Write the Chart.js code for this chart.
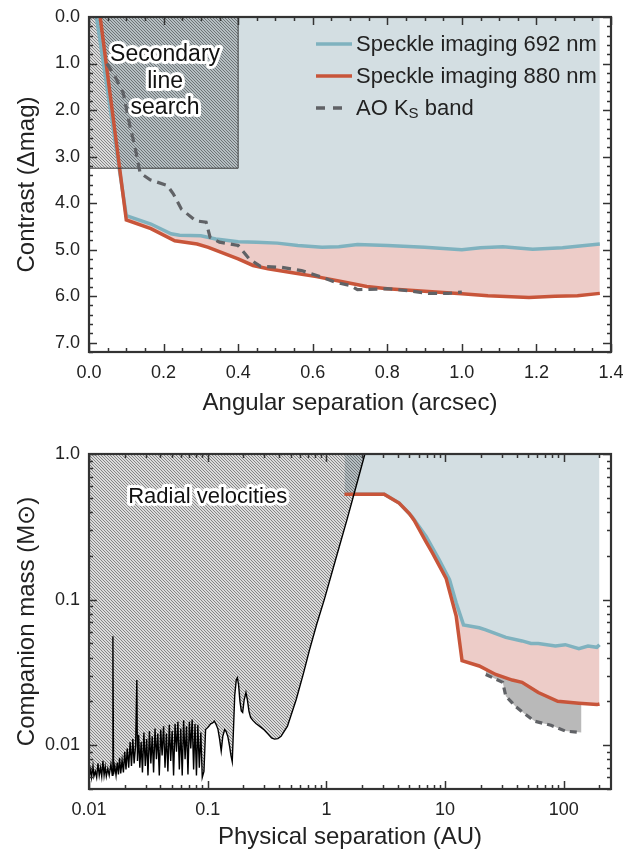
<!DOCTYPE html>
<html>
<head>
<meta charset="utf-8">
<script src="https://cdn.jsdelivr.net/npm/chart.js@4.4.1/dist/chart.umd.min.js"></script>
<style>
  body { margin: 0; background: #fff; }
  canvas { display: block; }
</style>
</head>
<body>
<canvas id="contrastChart" width="639" height="426"></canvas>
<canvas id="massChart" width="639" height="426"></canvas>
<script>
// ---- top panel: contrast curves (arcsec vs delta mag)
const sep692 = [0.02, 0.10, 0.166, 0.22, 0.243, 0.30, 0.34, 0.40, 0.45, 0.505, 0.56, 0.625, 0.67, 0.72, 0.80, 0.90, 1.00, 1.05, 1.11, 1.19, 1.27, 1.37];
const con692 = [0.0, 4.27, 4.45, 4.66, 4.69, 4.70, 4.77, 4.83, 4.84, 4.86, 4.91, 4.95, 4.94, 4.89, 4.91, 4.95, 5.00, 4.96, 4.94, 4.99, 4.96, 4.88];
const sep880 = [0.03, 0.10, 0.166, 0.23, 0.29, 0.32, 0.40, 0.44, 0.48, 0.55, 0.61, 0.68, 0.745, 0.80, 0.91, 1.00, 1.07, 1.18, 1.25, 1.31, 1.37];
const con880 = [0.0, 4.36, 4.55, 4.81, 4.88, 4.95, 5.20, 5.34, 5.41, 5.50, 5.58, 5.69, 5.79, 5.84, 5.90, 5.95, 5.99, 6.03, 6.00, 5.99, 5.94];
const sepAO = [0.048, 0.07, 0.092, 0.11, 0.123, 0.137, 0.164, 0.21, 0.226, 0.248, 0.286, 0.314, 0.325, 0.35, 0.40, 0.43, 0.46, 0.516, 0.57, 0.625, 0.66, 0.70, 0.72, 0.80, 0.855, 0.91, 0.964, 1.0];
const conAO = [1.0, 1.28, 1.64, 2.35, 2.78, 3.35, 3.50, 3.62, 3.80, 4.13, 4.38, 4.41, 4.74, 4.84, 4.91, 5.20, 5.36, 5.38, 5.45, 5.59, 5.70, 5.77, 5.86, 5.84, 5.88, 5.94, 5.94, 5.91];
// secondary line search box
const boxSep = [0, 0.4, 0.4];
const boxCon = [3.25, 3.25, 0];
const contrastTicks = ['0.0', '1.0', '2.0', '3.0', '4.0', '5.0', '6.0', '7.0'];

// ---- bottom panel: companion mass vs AU
const au692 = [1.42, 3.07, 4.1, 5.28, 6.94, 8.9, 10.9, 12.4, 14.3, 19.4, 22, 32.5, 44.5, 53, 61, 85, 103, 134, 160, 190, 200];
const mass692 = [0.53, 0.53, 0.46, 0.37, 0.27, 0.188, 0.137, 0.095, 0.067, 0.064, 0.062, 0.055, 0.052, 0.050, 0.050, 0.048, 0.049, 0.046, 0.048, 0.047, 0.049];
const au880 = [1.42, 3.07, 4.1, 5.0, 5.5, 6.9, 7.8, 10.2, 12.4, 13.9, 19.4, 26.7, 36.8, 44.5, 61, 89, 134, 190, 200];
const mass880 = [0.53, 0.53, 0.46, 0.39, 0.35, 0.25, 0.21, 0.14, 0.077, 0.038, 0.035, 0.0306, 0.028, 0.027, 0.023, 0.020, 0.0194, 0.019, 0.0192];
const auAO = [22, 30.6, 32.5, 36.8, 39, 47, 57, 78, 103, 141];
const massAO = [0.0306, 0.027, 0.0217, 0.0195, 0.0185, 0.0164, 0.0146, 0.0137, 0.0125, 0.0122];
// radial velocity limit
const auRV = [0.0100, 0.0103, 0.0105, 0.0108, 0.0110, 0.0113, 0.0116, 0.0119, 0.0122, 0.0125, 0.0128, 0.0131, 0.0134, 0.0137, 0.0140, 0.0144, 0.0148, 0.0153, 0.0157, 0.0159, 0.0161, 0.0165, 0.0169, 0.0173, 0.0177, 0.0181, 0.0185, 0.0190, 0.0195, 0.0200, 0.0205, 0.0210, 0.0216, 0.0222, 0.0228, 0.0234, 0.0240, 0.0247, 0.0253, 0.0256, 0.0262, 0.0268, 0.0275, 0.0282, 0.0290, 0.0298, 0.0306, 0.0314, 0.0323, 0.0332, 0.0341, 0.0350, 0.0360, 0.0370, 0.0380, 0.0391, 0.0402, 0.0413, 0.0425, 0.0437, 0.0449, 0.0462, 0.0475, 0.0488, 0.0502, 0.0516, 0.0531, 0.0546, 0.0561, 0.0577, 0.0593, 0.0610, 0.0627, 0.0645, 0.0663, 0.0682, 0.0701, 0.0720, 0.0740, 0.0761, 0.0782, 0.0804, 0.0826, 0.0850, 0.0875, 0.0900, 0.0930, 0.0960, 0.1010, 0.1060, 0.1100, 0.1140, 0.1180, 0.1220, 0.1260, 0.1300, 0.1340, 0.1390, 0.1430, 0.1480, 0.1530, 0.1570, 0.1610, 0.1650, 0.1690, 0.1740, 0.1780, 0.1820, 0.1870, 0.1920, 0.1970, 0.2030, 0.2100, 0.2160, 0.2230, 0.2300, 0.2400, 0.2550, 0.2800, 0.3000, 0.3200, 0.3450, 0.3660, 0.3900, 0.4150, 0.4700, 0.5570, 0.6400, 0.7200, 0.8300, 0.9600, 1.2000, 1.5000, 1.8000, 2.1100];
const massRV = [0.0060, 0.0068, 0.0060, 0.0072, 0.0061, 0.0066, 0.0060, 0.0075, 0.0062, 0.0070, 0.0061, 0.0078, 0.0062, 0.0071, 0.0061, 0.0069, 0.0062, 0.0074, 0.0062, 0.0560, 0.0063, 0.0072, 0.0062, 0.0076, 0.0063, 0.0082, 0.0064, 0.0079, 0.0065, 0.0090, 0.0068, 0.0095, 0.0070, 0.0105, 0.0072, 0.0110, 0.0075, 0.0100, 0.0280, 0.0078, 0.0118, 0.0070, 0.0105, 0.0065, 0.0122, 0.0072, 0.0110, 0.0062, 0.0125, 0.0075, 0.0115, 0.0065, 0.0130, 0.0080, 0.0120, 0.0062, 0.0128, 0.0085, 0.0135, 0.0070, 0.0120, 0.0066, 0.0138, 0.0078, 0.0125, 0.0062, 0.0140, 0.0090, 0.0145, 0.0068, 0.0130, 0.0062, 0.0148, 0.0080, 0.0135, 0.0063, 0.0145, 0.0095, 0.0150, 0.0068, 0.0140, 0.0062, 0.0138, 0.0070, 0.0122, 0.0060, 0.0066, 0.0128, 0.0133, 0.0140, 0.0142, 0.0146, 0.0138, 0.0129, 0.0110, 0.0091, 0.0115, 0.0128, 0.0124, 0.0114, 0.0098, 0.0085, 0.0077, 0.0130, 0.0220, 0.0280, 0.0290, 0.0260, 0.0200, 0.0172, 0.0168, 0.0205, 0.0230, 0.0205, 0.0170, 0.0155, 0.0148, 0.0141, 0.0133, 0.0127, 0.0120, 0.0112, 0.0110, 0.0111, 0.0115, 0.0135, 0.0206, 0.0310, 0.0450, 0.0680, 0.1000, 0.1900, 0.3600, 0.6200, 1.0000];
const massTicks = { 1: '1.0', 0.1: '0.1', 0.01: '0.01' };
const auTicks = { 0.01: '0.01', 0.1: '0.1', 1: '1', 10: '10', 100: '100' };

const BLUE = '#7fb2bf', BLUE_FILL = '#d3dee2';
const RED = '#c8553a', RED_FILL = '#edccc8';
const DARK = '#606266';
const FONT = "'Liberation Sans', Arial, sans-serif";

Chart.defaults.font.family = FONT;
Chart.defaults.color = '#222';

function pts(xs, ys) {
    return xs.map(function (v, i) { return { x: v, y: ys[i] }; });
}

// fine diagonal hatching, see-through so it darkens what lies under it
function hatch() {
    const c = document.createElement('canvas');
    c.width = 3; c.height = 3;
    const g = c.getContext('2d');
    g.fillStyle = 'rgba(0,0,0,0.14)';
    g.fillRect(0, 0, 3, 3);
    g.clearRect(0, 0, 1, 1); g.clearRect(1, 1, 1, 1); g.clearRect(2, 2, 1, 1);
    g.fillStyle = 'rgba(0,0,0,0.48)';
    g.fillRect(0, 0, 1, 1); g.fillRect(1, 1, 1, 1); g.fillRect(2, 2, 1, 1);
    return g.createPattern(c, 'repeat');
}

function haloText(ctx, text, x, y, size) {
    ctx.font = size + 'px ' + FONT;
    ctx.textAlign = 'center';
    ctx.textBaseline = 'middle';
    ctx.lineJoin = 'round';
    ctx.strokeStyle = '#fff';
    ctx.lineWidth = 6;
    ctx.strokeText(text, x, y);
    ctx.fillStyle = '#111';
    ctx.fillText(text, x, y);
}

// frame with inward ticks on all four sides
const frameTicks = {
    id: 'frameTicks',
    afterDatasetsDraw(chart, args, opts) {
        const ctx = chart.ctx, a = chart.chartArea;
        const sx = chart.scales.x, sy = chart.scales.y;
        ctx.save();
        ctx.strokeStyle = '#333';
        ctx.lineWidth = 1.5;
        function seg(x1, y1, x2, y2) { ctx.beginPath(); ctx.moveTo(x1, y1); ctx.lineTo(x2, y2); ctx.stroke(); }
        opts.xTicks.forEach(function (t) {
            const p = Math.round(sx.getPixelForValue(t[0])) + 0.5;
            if (p < a.left - 1 || p > a.right + 1) return;
            seg(p, a.bottom, p, a.bottom - t[1]);
            seg(p, a.top, p, a.top + t[1]);
        });
        opts.yTicks.forEach(function (t) {
            const p = Math.round(sy.getPixelForValue(t[0])) + 0.5;
            if (p < a.top - 1 || p > a.bottom + 1) return;
            seg(a.left, p, a.left + t[1], p);
            seg(a.right, p, a.right - t[1], p);
        });
        ctx.lineWidth = 2.2;
        ctx.strokeRect(a.left, a.top, a.right - a.left, a.bottom - a.top);
        ctx.restore();
    }
};

function linTicks(max, major, minor) {
    const out = [];
    const n = Math.round(max / minor);
    for (let i = 0; i <= n; i++) {
        const v = +(i * minor).toFixed(4);
        const isMajor = Math.abs(v / major - Math.round(v / major)) < 1e-6;
        out.push([v, isMajor ? 8 : 4]);
    }
    return out;
}
function logTicks(lo, hi) {
    const out = [];
    for (let e = lo; e <= hi; e++) {
        for (let k = 1; k <= 9; k++) out.push([k * Math.pow(10, e), k === 1 ? 8 : 4]);
    }
    return out;
}

// ================= TOP PANEL =================
const topLabels = {
    id: 'topLabels',
    afterDraw(chart) {
        const ctx = chart.ctx, a = chart.chartArea;
        const sx = chart.scales.x, sy = chart.scales.y;
        ctx.save();
        const cx = sx.getPixelForValue(0.204);
        haloText(ctx, 'Secondary', cx, sy.getPixelForValue(0.82), 23);
        haloText(ctx, 'line', cx, sy.getPixelForValue(1.39), 23);
        haloText(ctx, 'search', cx, sy.getPixelForValue(1.95), 23);

        // legend
        const x0 = a.left + 227, x1 = a.left + 263, tx = a.left + 267;
        const rows = [a.top + 27, a.top + 59, a.top + 91];
        ctx.lineWidth = 3.5;
        ctx.strokeStyle = BLUE;
        ctx.beginPath(); ctx.moveTo(x0, rows[0]); ctx.lineTo(x1, rows[0]); ctx.stroke();
        ctx.strokeStyle = RED;
        ctx.beginPath(); ctx.moveTo(x0, rows[1]); ctx.lineTo(x1, rows[1]); ctx.stroke();
        ctx.strokeStyle = DARK;
        ctx.setLineDash([9, 8]);
        ctx.beginPath(); ctx.moveTo(x0, rows[2]); ctx.lineTo(x0 + 26, rows[2]); ctx.stroke();
        ctx.setLineDash([]);

        ctx.fillStyle = '#222';
        ctx.textAlign = 'left';
        ctx.textBaseline = 'middle';
        ctx.font = '22px ' + FONT;
        ctx.fillText('Speckle imaging 692 nm', tx, rows[0] + 1);
        ctx.fillText('Speckle imaging 880 nm', tx, rows[1] + 1);
        ctx.fillText('AO K', tx, rows[2] + 1);
        const w = ctx.measureText('AO K').width;
        ctx.font = '15px ' + FONT;
        ctx.fillText('S', tx + w, rows[2] + 6);
        const ws = ctx.measureText('S').width;
        ctx.font = '22px ' + FONT;
        ctx.fillText(' band', tx + w + ws, rows[2] + 1);
        ctx.restore();
    }
};

const contrastChart = new Chart(document.getElementById('contrastChart'), {
    type: 'line',
    data: {
        datasets: [
            {
                label: 'AO Ks band',
                data: pts(sepAO, conAO),
                borderColor: DARK, borderWidth: 3.2, borderDash: [9, 6],
                pointRadius: 0, fill: false
            },
            {
                label: 'Secondary line search',
                data: pts(boxSep, boxCon),
                borderColor: '#3a3a3a', borderWidth: 1,
                backgroundColor: hatch(),
                pointRadius: 0, fill: { value: 0 }
            },
            {
                label: 'Speckle imaging 880 nm',
                data: pts(sep880, con880),
                borderColor: RED, borderWidth: 3.5,
                backgroundColor: RED_FILL,
                pointRadius: 0, fill: 3
            },
            {
                label: 'Speckle imaging 692 nm',
                data: pts(sep692, con692),
                borderColor: BLUE, borderWidth: 3.5,
                backgroundColor: BLUE_FILL,
                pointRadius: 0, fill: { value: 0 }
            }
        ]
    },
    options: {
        responsive: false,
        animation: false,
        layout: { padding: { top: 17, right: 28, left: 0, bottom: 0 } },
        plugins: {
            legend: { display: false },
            tooltip: { enabled: false },
            filler: { drawTime: 'beforeDatasetsDraw' },
            frameTicks: { xTicks: linTicks(1.4, 0.2, 0.05), yTicks: linTicks(7.2, 1, 0.2) }
        },
        scales: {
            x: {
                type: 'linear', min: 0, max: 1.4,
                grid: { display: false, drawTicks: false },
                border: { display: false },
                ticks: {
                    stepSize: 0.2, padding: 10, maxRotation: 0, autoSkip: false,
                    font: { size: 18 },
                    callback: function (v) { return (+v).toFixed(1); }
                },
                title: { display: true, text: 'Angular separation (arcsec)', font: { size: 24 }, padding: { top: 0, bottom: 8 } },
                afterFit: function (s) { s.height = 74; s.paddingLeft = 0; s.paddingRight = 0; }
            },
            y: {
                type: 'linear', min: 0, max: 7.2, reverse: true,
                grid: { display: false, drawTicks: false },
                border: { display: false },
                ticks: {
                    stepSize: 1, padding: 9, autoSkip: false, includeBounds: false,
                    font: { size: 18 },
                    callback: function (v) {
                        return Number.isInteger(+v) ? contrastTicks[v] : '';
                    }
                },
                title: { display: true, text: 'Contrast (\u0394mag)', font: { size: 24 }, padding: { top: 13, bottom: 0 } },
                afterFit: function (s) { s.width = 89; s.paddingTop = 0; s.paddingBottom = 0; }
            }
        }
    },
    plugins: [frameTicks, topLabels]
});

// ================= BOTTOM PANEL =================
const bottomLabels = {
    id: 'bottomLabels',
    afterDraw(chart) {
        const ctx = chart.ctx;
        ctx.save();
        haloText(ctx, 'Radial velocities', chart.scales.x.getPixelForValue(0.1), chart.scales.y.getPixelForValue(0.508), 22);
        ctx.restore();
    }
};

const massChart = new Chart(document.getElementById('massChart'), {
    type: 'line',
    data: {
        datasets: [
            {
                label: 'AO Ks band',
                data: pts(auAO, massAO),
                borderColor: DARK, borderWidth: 3.2, borderDash: [7, 5],
                backgroundColor: '#b9b9b9',
                pointRadius: 0, fill: 2
            },
            {
                label: 'Radial velocities',
                data: pts(auRV, massRV),
                borderColor: '#000', borderWidth: 1.4,
                backgroundColor: hatch(),
                pointRadius: 0, fill: { value: 1 }
            },
            {
                label: 'Speckle imaging 880 nm',
                data: pts(au880, mass880),
                borderColor: RED, borderWidth: 3.5,
                backgroundColor: RED_FILL,
                pointRadius: 0, fill: 3
            },
            {
                label: 'Speckle imaging 692 nm',
                data: pts(au692, mass692),
                borderColor: BLUE, borderWidth: 3.5,
                backgroundColor: BLUE_FILL,
                pointRadius: 0, fill: { value: 1 }
            }
        ]
    },
    options: {
        responsive: false,
        animation: false,
        layout: { padding: { top: 28, right: 28, left: 0, bottom: 0 } },
        plugins: {
            legend: { display: false },
            tooltip: { enabled: false },
            filler: { drawTime: 'beforeDatasetsDraw' },
            frameTicks: { xTicks: logTicks(-2, 2), yTicks: logTicks(-3, 0) }
        },
        scales: {
            x: {
                type: 'logarithmic', min: 0.01, max: 250,
                grid: { display: false, drawTicks: false },
                border: { display: false },
                ticks: {
                    padding: 10, maxRotation: 0, autoSkip: false,
                    font: { size: 18 },
                    callback: function (v) {
                        for (const k in auTicks) { if (Math.abs(v / k - 1) < 1e-6) return auTicks[k]; }
                        return '';
                    }
                },
                title: { display: true, text: 'Physical separation (AU)', font: { size: 24 }, padding: { top: 0, bottom: 0 } },
                afterFit: function (s) { s.height = 63; s.paddingLeft = 0; s.paddingRight = 0; }
            },
            y: {
                type: 'logarithmic', min: 0.005, max: 1,
                grid: { display: false, drawTicks: false },
                border: { display: false },
                ticks: {
                    padding: 9, autoSkip: false,
                    font: { size: 18 },
                    callback: function (v) {
                        for (const k in massTicks) { if (Math.abs(v / k - 1) < 1e-6) return massTicks[k]; }
                        return '';
                    }
                },
                title: { display: true, text: 'Companion mass (M\u2299)', font: { size: 24 }, padding: { top: 13, bottom: 0 } },
                afterFit: function (s) { s.width = 89; s.paddingTop = 0; s.paddingBottom = 0; }
            }
        }
    },
    plugins: [frameTicks, bottomLabels]
});
</script>
</body>
</html>
